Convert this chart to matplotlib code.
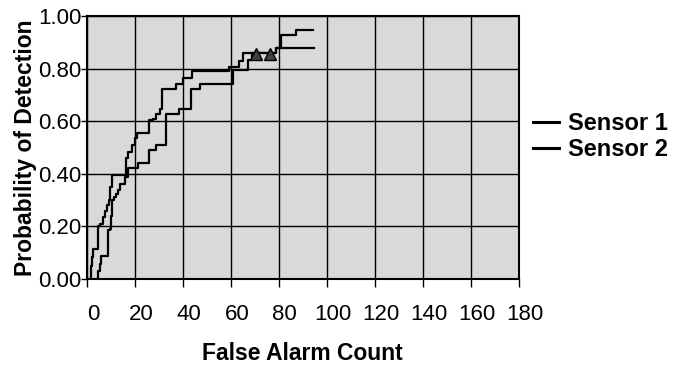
import numpy as np
import matplotlib.pyplot as plt
from matplotlib.transforms import ScaledTranslation

plt.rcParams['font.family'] = ['Liberation Sans', 'DejaVu Sans']

# step points: false alarm count where the step happens, and level after it
s1_x = [1.5, 1.5, 2.2, 2.6, 4.5, 5.5, 6.5, 7.5, 8.2, 9.0, 9.5, 10.5, 16.3, 17.2,
        18.6, 20.0, 20.7, 26.0, 27.6, 29.0, 30.4, 31.5, 37.1, 40.1, 43.6, 59.3,
        63.5, 65.1, 78.8, 94.6]
s1_p = [0.0, 0.05, 0.083, 0.115, 0.2, 0.21, 0.235, 0.26, 0.28, 0.30, 0.35, 0.395,
        0.459, 0.484, 0.51, 0.535, 0.557, 0.605, 0.611, 0.63, 0.646, 0.722, 0.742,
        0.764, 0.792, 0.808, 0.831, 0.862, 0.881, 0.881]

s2_x = [4.3, 4.5, 5.4, 5.8, 8.6, 9.6, 10.0, 10.3, 11.4, 12.1, 13.0, 14.0, 15.8, 17.2,
        21.4, 26.0, 28.75, 32.9, 38.5, 43.3, 47.1, 60.7, 67.2, 69.0, 78.8, 81.1,
        87.1, 94.3]
s2_p = [0.0, 0.03, 0.058, 0.086, 0.185, 0.19, 0.24, 0.30, 0.312, 0.325, 0.338, 0.363,
        0.389, 0.421, 0.442, 0.493, 0.51, 0.628, 0.646, 0.722, 0.742, 0.796, 0.834,
        0.862, 0.881, 0.929, 0.948, 0.948]

# triangle markers
tri_x = [70.4, 76.3]
tri_p = [0.856, 0.856]

fig = plt.figure(figsize=(6.79, 3.66), dpi=100)
ax = fig.add_axes([0.128, 0.238, 0.636, 0.717])
ax.set_facecolor('#d9d9d9')

ax.step(s1_x, s1_p, where='post', color='black', lw=1.6, label='Sensor 1')
ax.step(s2_x, s2_p, where='post', color='black', lw=1.6, label='Sensor 2')
ax.plot(tri_x, tri_p, linestyle='none', marker='^', ms=9,
        markerfacecolor='#404040', markeredgecolor='black', markeredgewidth=1)

ax.set_xlim(0, 180)
ax.set_ylim(0, 1)
ax.set_xticks(np.arange(0, 181, 20))
ax.set_yticks(np.arange(0, 1.01, 0.2))
ax.set_yticklabels(['%.2f' % v for v in np.arange(0, 1.01, 0.2)])
ax.grid(True, color='black', lw=1)
ax.set_axisbelow(True)
for sp in ax.spines.values():
    sp.set_linewidth(1.5)
ax.tick_params(axis='x', direction='out', length=6, width=1, pad=12, labelsize=16)
ax.tick_params(axis='y', direction='out', length=4, width=1, pad=0, labelsize=16)

# excel style: x labels sit a bit right of the tick
shift = ScaledTranslation(0.06, 0, fig.dpi_scale_trans)
for lab in ax.get_xticklabels():
    lab.set_transform(lab.get_transform() + shift)

ax.set_xlabel('False Alarm Count', fontsize=16.5, fontweight='bold', labelpad=12)
ax.set_ylabel('Probability of Detection', fontsize=16.5, fontweight='bold', labelpad=1)

ax.legend(loc='center left', bbox_to_anchor=(1.032, 0.542), frameon=False,
          prop={'size': 17, 'weight': 'bold'}, handlelength=1.1, handletextpad=0.38,
          labelspacing=0.15, borderpad=0, borderaxespad=0)
for ln in ax.get_legend().get_lines():
    ln.set_linewidth(2.2)

fig.savefig('out.png', dpi=100)
